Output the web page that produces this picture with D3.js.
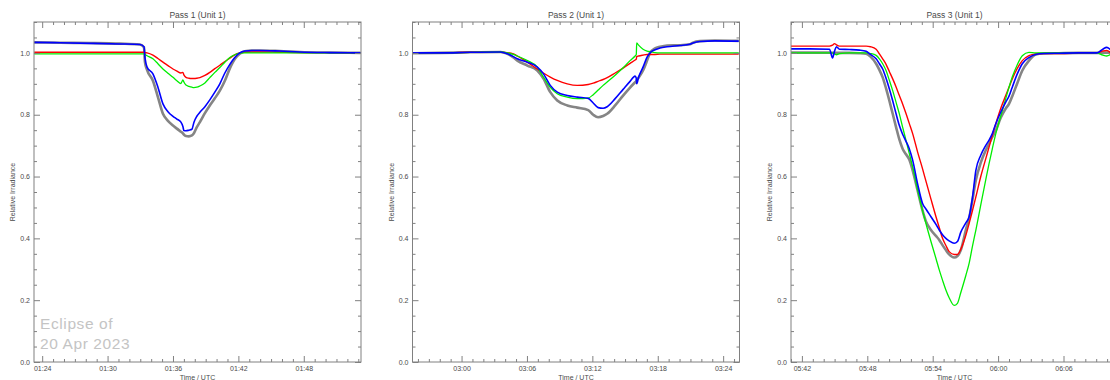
<!DOCTYPE html>
<html>
<head>
<meta charset="utf-8">
<script src="https://cdn.jsdelivr.net/npm/d3@7"></script>
<style>
  html, body { margin: 0; padding: 0; background: #fff; }
  svg { display: block; }
  text { font-family: "Liberation Sans", Arial, sans-serif; }
</style>
</head>
<body>
<svg id="chart" width="1110" height="380"></svg>
<script>
// ---- Data (time in minutes after 00:00 UTC, values = relative irradiance) ----
const titles = ["Pass 1 (Unit 1)", "Pass 2 (Unit 1)", "Pass 3 (Unit 1)"];
const timeDomains = [[83.25, 113.25], [175.5, 205.5], [341.0, 371.0]];
const yTickValues = [0.0, 0.2, 0.4, 0.6, 0.8, 1.0];
const annotation = ["Eclipse of", "20 Apr 2023"];

// Pass 1
const t1 = [83.27, 85.65, 88.40, 91.14, 92.97, 93.34, 93.43, 93.62, 94.16, 94.62, 95.08, 95.54, 96.00, 96.36, 96.73, 96.91, 97.00, 97.19, 97.46, 97.74, 97.92, 98.19, 98.47, 98.93, 99.38, 99.84, 100.30, 100.76, 101.22, 101.67, 102.13, 102.59, 103.23, 103.96, 105.79, 107.63, 110.37, 113.21];
const gray1 = [1.034, 1.033, 1.032, 1.030, 1.027, 1.018, 0.970, 0.945, 0.910, 0.857, 0.803, 0.780, 0.765, 0.755, 0.745, 0.740, 0.736, 0.731, 0.730, 0.733, 0.740, 0.760, 0.776, 0.805, 0.830, 0.853, 0.878, 0.910, 0.950, 0.980, 0.997, 1.005, 1.008, 1.008, 1.006, 1.003, 1.001, 1.000];
const blue1 = [1.034, 1.033, 1.031, 1.029, 1.027, 1.020, 0.985, 0.954, 0.932, 0.889, 0.835, 0.810, 0.795, 0.786, 0.776, 0.762, 0.749, 0.748, 0.750, 0.753, 0.775, 0.795, 0.808, 0.826, 0.848, 0.873, 0.900, 0.935, 0.963, 0.985, 1.000, 1.006, 1.008, 1.008, 1.006, 1.003, 1.001, 1.000];
const red1 = [1.002, 1.002, 1.002, 1.002, 1.002, 1.002, 1.001, 1.000, 0.993, 0.982, 0.970, 0.959, 0.948, 0.941, 0.935, 0.937, 0.929, 0.921, 0.918, 0.917, 0.917, 0.918, 0.920, 0.927, 0.937, 0.949, 0.960, 0.972, 0.983, 0.994, 1.000, 1.002, 1.003, 1.003, 1.002, 1.001, 1.001, 1.000];
const green1 = [0.997, 0.997, 0.997, 0.997, 0.997, 0.997, 0.995, 0.991, 0.981, 0.965, 0.948, 0.934, 0.921, 0.910, 0.901, 0.913, 0.906, 0.896, 0.892, 0.889, 0.888, 0.889, 0.893, 0.903, 0.920, 0.937, 0.953, 0.970, 0.985, 0.994, 0.999, 1.000, 1.000, 1.000, 1.000, 1.000, 1.000, 1.000];

// Pass 2
const t2 = [175.52, 178.08, 180.82, 183.57, 184.21, 184.76, 185.12, 186.04, 186.95, 187.50, 188.14, 188.78, 189.70, 190.61, 191.62, 192.08, 192.53, 192.99, 193.36, 194.09, 194.82, 195.46, 195.92, 196.03, 196.07, 196.24, 196.65, 197.02, 197.29, 197.75, 198.21, 198.85, 200.04, 200.95, 201.23, 201.87, 203.24, 205.43];
const gray2 = [0.999, 1.000, 1.002, 1.003, 0.997, 0.985, 0.975, 0.959, 0.943, 0.918, 0.873, 0.846, 0.830, 0.823, 0.815, 0.800, 0.792, 0.796, 0.803, 0.830, 0.862, 0.888, 0.905, 0.909, 0.912, 0.920, 0.943, 0.975, 1.000, 1.015, 1.020, 1.024, 1.025, 1.028, 1.033, 1.038, 1.040, 1.039];
const blue2 = [1.000, 1.000, 1.002, 1.003, 0.997, 0.988, 0.981, 0.970, 0.954, 0.933, 0.895, 0.873, 0.862, 0.857, 0.853, 0.838, 0.823, 0.821, 0.826, 0.852, 0.882, 0.908, 0.925, 0.918, 0.900, 0.921, 0.954, 0.986, 1.000, 1.010, 1.016, 1.020, 1.024, 1.028, 1.032, 1.037, 1.039, 1.038];
const red2 = [1.000, 1.000, 1.002, 1.002, 1.001, 0.997, 0.990, 0.970, 0.948, 0.935, 0.922, 0.911, 0.900, 0.895, 0.898, 0.902, 0.908, 0.914, 0.920, 0.935, 0.951, 0.966, 0.977, 0.980, 0.988, 0.990, 0.993, 0.995, 0.995, 0.995, 0.996, 0.996, 0.996, 0.996, 0.996, 0.996, 0.996, 0.996];
const green2 = [1.000, 1.000, 1.002, 1.003, 1.000, 0.995, 0.990, 0.975, 0.954, 0.922, 0.889, 0.868, 0.857, 0.852, 0.854, 0.865, 0.880, 0.895, 0.906, 0.928, 0.952, 0.975, 0.990, 0.995, 1.032, 1.025, 1.012, 1.006, 1.004, 1.001, 1.000, 1.000, 1.000, 1.000, 1.000, 1.000, 1.000, 1.000];

// Pass 3
const t3 = [340.97, 342.70, 344.53, 344.81, 344.99, 345.17, 345.45, 346.36, 347.28, 347.89, 348.29, 348.81, 349.11, 349.41, 349.72, 350.02, 350.33, 350.64, 350.94, 351.24, 351.55, 351.85, 352.16, 352.61, 353.07, 353.38, 353.84, 354.30, 354.60, 354.90, 355.21, 355.51, 355.97, 356.27, 356.58, 357.04, 357.34, 357.65, 357.96, 358.41, 358.87, 359.17, 359.47, 359.79, 360.24, 360.70, 361.00, 361.30, 361.76, 362.22, 362.83, 363.45, 364.20, 365.58, 367.41, 369.05, 369.60, 369.97, 370.33];
const gray3 = [1.001, 1.001, 1.001, 1.000, 1.000, 1.000, 1.000, 1.000, 0.999, 0.997, 0.988, 0.965, 0.945, 0.921, 0.885, 0.846, 0.803, 0.760, 0.720, 0.690, 0.672, 0.655, 0.620, 0.556, 0.490, 0.455, 0.427, 0.408, 0.395, 0.378, 0.362, 0.348, 0.338, 0.343, 0.362, 0.427, 0.465, 0.525, 0.588, 0.645, 0.685, 0.706, 0.728, 0.749, 0.790, 0.820, 0.835, 0.860, 0.902, 0.943, 0.975, 0.995, 0.998, 0.999, 1.000, 1.000, 1.000, 1.001, 1.001];
const blue3 = [1.013, 1.013, 1.012, 0.984, 1.005, 1.020, 1.012, 1.011, 1.009, 1.005, 0.995, 0.981, 0.965, 0.948, 0.918, 0.884, 0.845, 0.803, 0.765, 0.737, 0.714, 0.690, 0.653, 0.577, 0.513, 0.495, 0.470, 0.445, 0.427, 0.412, 0.400, 0.392, 0.384, 0.390, 0.420, 0.450, 0.470, 0.532, 0.620, 0.669, 0.701, 0.718, 0.739, 0.771, 0.808, 0.841, 0.860, 0.889, 0.932, 0.965, 0.985, 0.995, 0.998, 0.999, 1.000, 1.000, 1.012, 1.018, 1.010];
const red3 = [1.022, 1.022, 1.022, 1.025, 1.030, 1.026, 1.022, 1.022, 1.022, 1.022, 1.020, 1.012, 0.997, 0.981, 0.963, 0.940, 0.916, 0.890, 0.862, 0.835, 0.804, 0.772, 0.739, 0.680, 0.625, 0.585, 0.527, 0.470, 0.435, 0.400, 0.377, 0.357, 0.348, 0.348, 0.365, 0.410, 0.448, 0.490, 0.534, 0.600, 0.658, 0.695, 0.733, 0.771, 0.820, 0.862, 0.889, 0.916, 0.950, 0.975, 0.991, 0.997, 0.998, 0.998, 0.999, 1.000, 1.006, 1.008, 1.000];
const green3 = [1.000, 1.000, 1.000, 1.000, 0.997, 0.994, 0.998, 1.000, 1.000, 1.000, 0.998, 0.992, 0.981, 0.965, 0.943, 0.912, 0.878, 0.840, 0.803, 0.760, 0.717, 0.675, 0.631, 0.558, 0.490, 0.448, 0.390, 0.335, 0.298, 0.265, 0.233, 0.208, 0.183, 0.190, 0.225, 0.280, 0.319, 0.375, 0.427, 0.508, 0.590, 0.642, 0.690, 0.739, 0.795, 0.852, 0.889, 0.922, 0.962, 0.991, 1.002, 1.000, 1.000, 1.000, 1.000, 1.000, 0.993, 0.990, 0.995];

const times = [t1, t2, t3];
const seriesNames = ["gray", "red", "green", "blue"];
const seriesData = {
  gray: [gray1, gray2, gray3],
  red: [red1, red2, red3],
  green: [green1, green2, green3],
  blue: [blue1, blue2, blue3]
};

// ---- Styling / layout ----
const seriesStyle = {
  gray: { color: "#858585", width: 2.6 },
  red: { color: "#ff0000", width: 1.4 },
  green: { color: "#00ee00", width: 1.3 },
  blue: { color: "#0000ff", width: 1.6 }
};
const axisColor = "#808080";
const textColor = "#4a4a4a";
const panelLeft0 = 34, panelStep = 378.5, panelW = 327;
const plotTop = 22, plotBottom = 362;

const svg = d3.select("#chart");
const fmtTime = m => {
  const h = Math.floor(m / 60), mm = Math.round(m - h * 60);
  return String(h).padStart(2, "0") + ":" + String(mm).padStart(2, "0");
};

const y = d3.scaleLinear().domain([0, 1.1]).range([plotBottom, plotTop]);

titles.forEach((title, i) => {
  const left = panelLeft0 + i * panelStep;
  const x = d3.scaleLinear().domain(timeDomains[i]).range([left, left + panelW]);
  const g = svg.append("g");

  const clipId = "clip" + i;
  svg.append("clipPath").attr("id", clipId)
    .append("rect").attr("x", left).attr("y", plotTop).attr("width", panelW).attr("height", plotBottom - plotTop);

  // curves
  const line = d3.line()
    .x(d => x(d[0])).y(d => y(d[1]))
    .curve(d3.curveMonotoneX);
  const cg = g.append("g").attr("clip-path", `url(#${clipId})`);
  seriesNames.forEach(name => {
    const pts = times[i].map((t, k) => [t, seriesData[name][i][k]]);
    cg.append("path").datum(pts)
      .attr("d", line)
      .attr("fill", "none")
      .attr("stroke", seriesStyle[name].color)
      .attr("stroke-width", seriesStyle[name].width)
      .attr("stroke-linejoin", "round");
  });

  // axes ticks
  const [d0, d1] = timeDomains[i];
  const majorX = d3.range(Math.ceil(d0 / 6) * 6, d1 + 0.001, 6);
  const minorX = d3.range(Math.ceil(d0), d1 + 0.001, 1).filter(v => v % 6 !== 0);
  const minorY = d3.range(0, 1.1001, 0.05).map(v => +v.toFixed(2)).filter(v => Math.abs(v * 5 - Math.round(v * 5)) > 1e-6);

  function styleAxis(sel) {
    sel.select(".domain").remove();
    sel.selectAll("line").attr("stroke", axisColor).attr("stroke-width", 1);
    sel.selectAll("text").attr("fill", textColor).style("font-size", "7px")
      .style("font-family", "'Liberation Sans', Arial, sans-serif");
  }

  // bottom
  g.append("g").attr("transform", `translate(0,${plotBottom})`)
    .call(d3.axisBottom(x).tickValues(majorX).tickSize(-6).tickPadding(4).tickFormat(fmtTime)).call(styleAxis);
  g.append("g").attr("transform", `translate(0,${plotBottom})`)
    .call(d3.axisBottom(x).tickValues(minorX).tickSize(-3).tickFormat("")).call(styleAxis);
  // top
  g.append("g").attr("transform", `translate(0,${plotTop})`)
    .call(d3.axisTop(x).tickValues(majorX).tickSize(-6).tickFormat("")).call(styleAxis);
  g.append("g").attr("transform", `translate(0,${plotTop})`)
    .call(d3.axisTop(x).tickValues(minorX).tickSize(-3).tickFormat("")).call(styleAxis);
  // left
  g.append("g").attr("transform", `translate(${left},0)`)
    .call(d3.axisLeft(y).tickValues(yTickValues).tickSize(-6).tickPadding(4).tickFormat(d3.format(".1f"))).call(styleAxis);
  g.append("g").attr("transform", `translate(${left},0)`)
    .call(d3.axisLeft(y).tickValues(minorY).tickSize(-3).tickFormat("")).call(styleAxis);
  // right
  g.append("g").attr("transform", `translate(${left + panelW},0)`)
    .call(d3.axisRight(y).tickValues(yTickValues).tickSize(-6).tickFormat("")).call(styleAxis);
  g.append("g").attr("transform", `translate(${left + panelW},0)`)
    .call(d3.axisRight(y).tickValues(minorY).tickSize(-3).tickFormat("")).call(styleAxis);

  // frame
  g.append("rect").attr("x", left).attr("y", plotTop).attr("width", panelW).attr("height", plotBottom - plotTop)
    .attr("fill", "none").attr("stroke", axisColor).attr("stroke-width", 1);

  // title
  g.append("text").attr("x", left + panelW / 2).attr("y", 17.5)
    .attr("text-anchor", "middle").attr("fill", textColor).style("font-size", "8.5px").text(title);
  // x title
  g.append("text").attr("x", left + panelW / 2).attr("y", 380)
    .attr("text-anchor", "middle").attr("fill", textColor).style("font-size", "7px").text("Time / UTC");
  // y title
  g.append("text").attr("transform", `translate(${left - 19},${(plotTop + plotBottom) / 2}) rotate(-90)`)
    .attr("text-anchor", "middle").attr("fill", textColor).style("font-size", "7px").text("Relative Irradiance");

  if (i === 0) {
    annotation.forEach((s, k) => {
      g.append("text").attr("x", left + 6).attr("y", 329 + k * 19.5)
        .attr("fill", "#c4c4c4").style("font-size", "15.5px").style("letter-spacing", "0.6px")
        .style("font-weight", "300").text(s);
    });
  }
});
</script>
</body>
</html>
